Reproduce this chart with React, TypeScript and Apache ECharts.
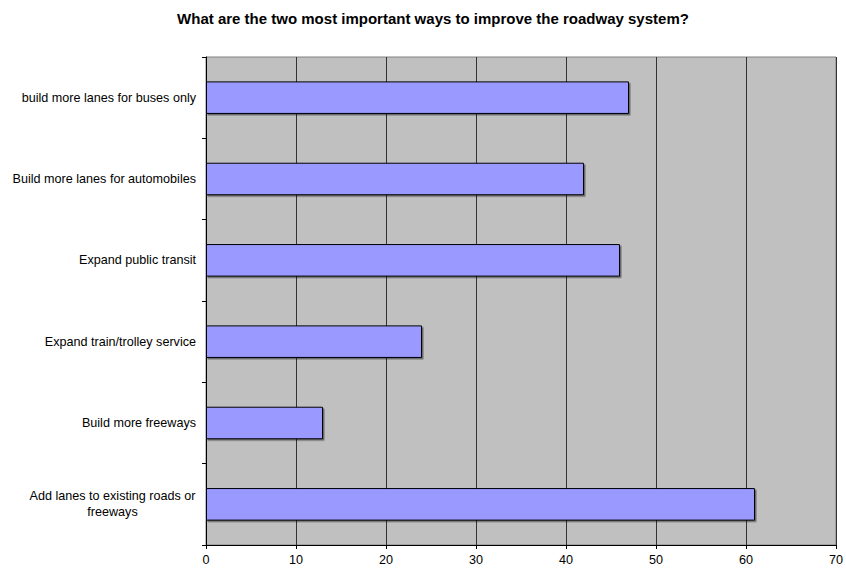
import React, { useEffect, useRef } from "react";
import * as echarts from "echarts";

const titleText = "What are the two most important ways to improve the roadway system?";
const categories = [
  "Add lanes to existing roads or\nfreeways",
  "Build more freeways",
  "Expand train/trolley service",
  "Expand public transit",
  "Build more lanes for automobiles",
  "build more lanes for buses only",
];
const values = [61, 13, 24, 46, 42, 47];
const xMin = 0;
const xMax = 70;
const xInterval = 10;

const FONT = "'Liberation Sans', Arial, Helvetica, sans-serif";
const FS = 12.6;

export default function App() {
  const ref = useRef<HTMLDivElement>(null);
  useEffect(() => {
    if (!ref.current) return;
    const chart = echarts.init(ref.current, null, { renderer: "svg" });
    chart.setOption({
      animation: false,
      backgroundColor: "#ffffff",
      title: {
        text: titleText,
        left: 428,
        textAlign: "center",
        top: 6,
        textStyle: { fontFamily: FONT, fontSize: 15, fontWeight: "bold", color: "#000" },
      },
      grid: {
        left: 206,
        right: 4,
        top: 57,
        bottom: 24,
        show: true,
        backgroundColor: "#C0C0C0",
        borderColor: "#808080",
        borderWidth: 1,
      },
      xAxis: {
        type: "value",
        min: xMin,
        max: xMax,
        interval: xInterval,
        axisLine: { show: true, lineStyle: { color: "#000", width: 1 } },
        axisTick: { show: true, length: 4, lineStyle: { color: "#000" } },
        axisLabel: { color: "#000", fontFamily: FONT, fontSize: FS, margin: 8, showMaxLabel: true },
        splitLine: { show: true, lineStyle: { color: "#333", width: 1 } },
      },
      yAxis: {
        type: "category",
        data: categories,
        axisLine: { show: true, lineStyle: { color: "#000", width: 1 } },
        axisTick: { show: true, length: 4, alignWithLabel: false, lineStyle: { color: "#000" } },
        axisLabel: {
          color: "#000",
          fontFamily: FONT,
          fontSize: FS,
          margin: 10,
          lineHeight: 16,
          formatter: (v: string) => {
            if (v.indexOf("\n") >= 0) {
              const parts = v.split("\n");
              return parts.map((p) => "{c|" + p + "}").join("\n");
            }
            return v;
          },
          rich: {
            c: { width: 167, align: "center", fontFamily: FONT, fontSize: FS, color: "#000", lineHeight: 16 },
          },
        },
        splitLine: { show: false },
      },
      series: [
        {
          type: "bar",
          data: values,
          barWidth: "40%",
          itemStyle: {
            color: "#9999FF",
            borderColor: "#000",
            borderWidth: 1,
            shadowColor: "rgba(0,0,0,0.45)",
            shadowOffsetX: 1.5,
            shadowOffsetY: 1.5,
            shadowBlur: 0,
          },
          emphasis: { disabled: true },
        },
      ],
    });
    return () => chart.dispose();
  }, []);
  return <div ref={ref} style={{ width: 846, height: 569, position: "absolute", left: 0, top: 0 }} />;
}
